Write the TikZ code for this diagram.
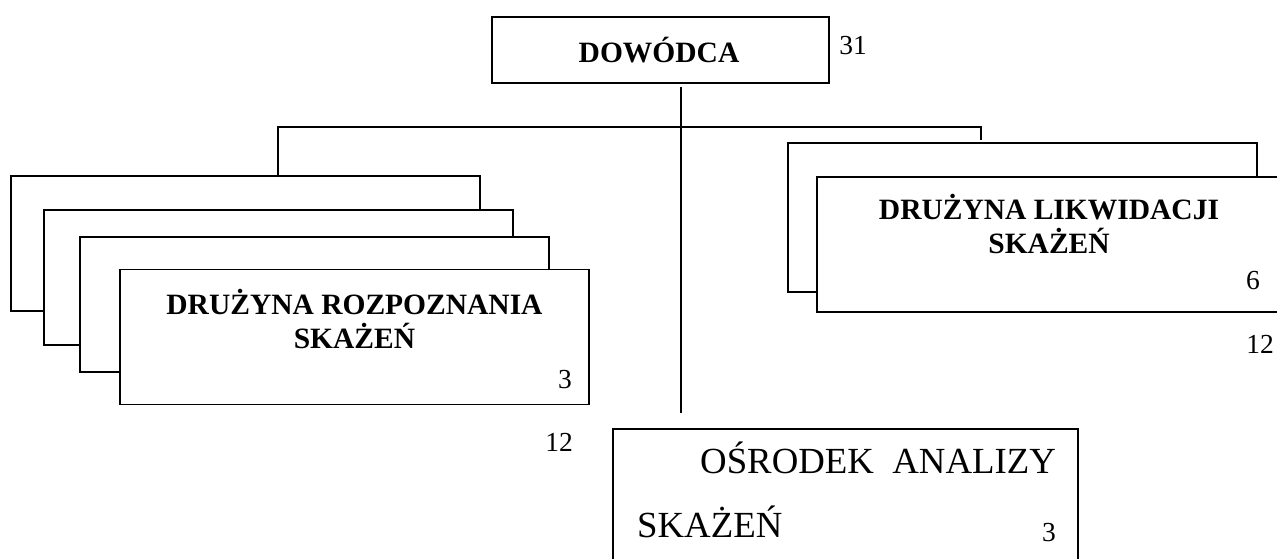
\documentclass[tikz,border=0pt]{standalone}
\usepackage{fontspec}
\setmainfont{Liberation Serif}
\usetikzlibrary{positioning}
\begin{document}
\begin{tikzpicture}[x=1pt,y=-1pt,
  unit/.style = {rectangle,draw=black,fill=white,line width=1.8pt,inner sep=0pt,outer sep=0mm,minimum width=469pt,minimum height=135pt},
  title/.style = {font=\fontsize{29.5}{34}\selectfont\bfseries,align=center,inner sep=0pt},
  num/.style = {font=\fontsize{27.5}{32}\selectfont,inner sep=0pt},
  plain/.style = {font=\fontsize{36.8}{40}\selectfont,inner sep=0pt,anchor=base west},
  link/.style = {line width=1.8pt}]
\useasboundingbox (0,0) rectangle (1277,559);
% dowodca
\node[unit,minimum width=337pt,minimum height=66pt] (dow) at (660.5,50) {};
\node[title] (dowT) at (659,50) {DOWÓDCA};
\node[num] (dowN) at (853,46) {31};
% szyna
\coordinate (top)   at (681,87);
\coordinate (bot)   at (681,413);
\coordinate (busL)  at (278,127);
\coordinate (busR)  at (981,127);
\coordinate (tickE) at (981,140);
% druzyny rozpoznania
\foreach \x/\y [count=\k] in {245.5/243.5, 278.5/277.5, 314.5/304.5, 354.5/337}
    \node[unit] (rozp\k) at (\x,\y) {};
\node[title] (rozpT) at (354.5,319) {DRUŻYNA ROZPOZNANIA\\SKAŻEŃ};
\node[num] (rozpN) at (565,380) {3};
\node[num] (rozpS) at (559,442) {12};
% druzyny likwidacji
\node[unit,minimum height=149pt] (likw1) at (1022.5,217.5) {};
\node[unit] (likw2) at (1051.5,244.5) {};
\node[title] (likwT) at (1049,224) {DRUŻYNA LIKWIDACJI\\SKAŻEŃ};
\node[num] (likwN) at (1253,281) {6};
\node[num] (likwS) at (1260,344) {12};
% osrodek
\node[unit,minimum width=465pt,minimum height=151pt] (osr) at (845.5,504.5) {};
\node[plain] (osrT1) at (700,473) {OŚRODEK\ \ ANALIZY};
\node[plain] (osrT2) at (637,537) {SKAŻEŃ};
\node[num] (osrN) at (1049,533) {3};
% polaczenia
\draw[link] (top) -- (bot);
\draw[link] (busL |- rozp1.north) -- (busL) -- (busR) -- (tickE);
\end{tikzpicture}
\end{document}
